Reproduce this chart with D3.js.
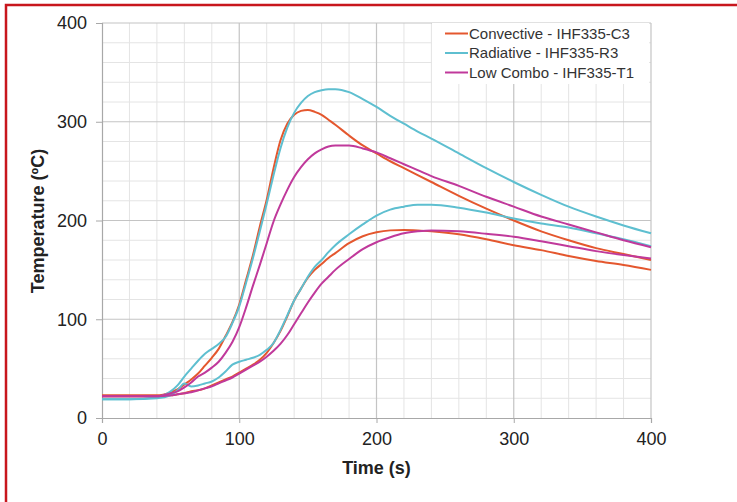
<!DOCTYPE html>
<html>
<head>
<meta charset="utf-8">
<script src="https://cdn.jsdelivr.net/npm/d3@7/dist/d3.min.js"></script>
<style>
  body { margin: 0; background: #fff; }
  svg { display: block; font-family: "Liberation Sans", Arial, sans-serif; }
  .tick-label { font-size: 18px; fill: #222; }
  .axis-title { font-size: 18px; font-weight: bold; fill: #222; }
  .legend-text { font-size: 15px; fill: #333; }
</style>
</head>
<body>
<svg id="chart" width="737" height="502"></svg>
<script>
// sample times (s), shared by every curve
const times = [0, 20, 40, 50, 55, 60, 65, 70, 75, 80, 85, 90, 95, 100, 105, 110, 115, 120, 125, 130,
  135, 140, 145, 150, 155, 160, 165, 170, 180, 190, 200, 210, 220, 230, 240, 260, 280, 300, 320, 340, 360, 380, 400];

// temperatures (ºC), upper and lower curve of each test
const convectiveUpper = [23, 23, 23, 26, 29, 34, 39, 45, 53, 61, 70, 83, 97, 115, 140, 165, 194, 221, 253, 281,
  298, 307, 311, 312, 310, 307, 302, 297, 286, 276, 268, 260, 253, 246, 239, 225, 212, 200, 189, 180, 172, 166, 160];
const convectiveLower = [22, 22, 22, 23, 24, 25, 27, 28, 30, 33, 36, 39, 42, 46, 50, 54, 59, 66, 76, 88,
  103, 119, 131, 142, 150, 156, 162, 167, 177, 184, 188, 190, 190.5, 190, 189, 186, 181, 175, 170, 164, 159, 155, 150];
const radiativeUpper = [19, 19, 21, 27, 33, 42, 50, 58, 65, 70, 75, 82, 96, 113, 137, 162, 189, 217, 246, 273,
  294, 309, 319, 326, 330, 332, 333, 333, 330, 323, 315, 306, 298, 290, 283, 268, 253, 239, 226, 214, 204, 195, 187];
const radiativeLower = [19, 19, 20, 23, 28, 35, 32, 33, 35, 37, 41, 47, 54, 57, 59, 61, 64, 69, 76, 89,
  104, 119, 131, 143, 153, 160, 168, 175, 186, 196, 205, 211, 214, 216, 216, 213, 208, 202, 197, 193, 187, 181, 174];
const comboUpper = [22, 22, 22, 25, 27, 31, 36, 42, 46, 51, 57, 66, 77, 92, 112, 134, 155, 177, 199, 216,
  231, 244, 254, 262, 268, 272, 275, 276, 276, 273, 269, 263, 257, 251, 245, 235, 224, 214, 204, 196, 188, 180, 173];
const comboLower = [22, 22, 22, 23, 24, 25, 26, 28, 30, 32, 35, 38, 41, 45, 49, 53, 57, 62, 68, 75,
  84, 95, 106, 117, 127, 136, 143, 150, 161, 171, 178, 183, 187, 189, 190, 189, 186.5, 183.5, 179, 174, 169, 165, 161.5];

const seriesNames = ['Convective - IHF335-C3', 'Radiative - IHF335-R3', 'Low Combo - IHF335-T1'];
const seriesColors = ['#E4572E', '#5EBFD0', '#C0399B'];
const xTicks = [0, 100, 200, 300, 400];
const yTicks = [0, 100, 200, 300, 400];

const curves = [
  { s: 0, values: convectiveUpper }, { s: 0, values: convectiveLower },
  { s: 1, values: radiativeUpper }, { s: 1, values: radiativeLower },
  { s: 2, values: comboUpper }, { s: 2, values: comboLower }
];

const svg = d3.select('#chart');
const margin = { top: 23, left: 102 };
const w = 549, h = 395;

// red frame (only top and left fall inside the picture)
svg.append('rect').attr('x', 6).attr('y', 5).attr('width', 800).attr('height', 600)
  .attr('fill', 'none').attr('stroke', '#C8161D').attr('stroke-width', 2.5);

const g = svg.append('g').attr('transform', `translate(${margin.left},${margin.top})`);
const x = d3.scaleLinear().domain([0, 400]).range([0, w]);
const y = d3.scaleLinear().domain([0, 400]).range([h, 0]);

// minor grid every 20, major every 100
const minor = d3.range(20, 401, 20).filter(v => v % 100 !== 0);
g.selectAll('.vminor').data(minor).join('line')
  .attr('x1', d => x(d)).attr('x2', d => x(d)).attr('y1', 0).attr('y2', h)
  .attr('stroke', '#E4E4E4').attr('stroke-width', 1);
g.selectAll('.hminor').data(minor).join('line')
  .attr('y1', d => y(d)).attr('y2', d => y(d)).attr('x1', 0).attr('x2', w)
  .attr('stroke', '#E4E4E4').attr('stroke-width', 1);
g.selectAll('.vmajor').data(xTicks.slice(1)).join('line')
  .attr('x1', d => x(d)).attr('x2', d => x(d)).attr('y1', 0).attr('y2', h)
  .attr('stroke', '#C4C4C4').attr('stroke-width', 1.2);
g.selectAll('.hmajor').data(yTicks.slice(1)).join('line')
  .attr('y1', d => y(d)).attr('y2', d => y(d)).attr('x1', 0).attr('x2', w)
  .attr('stroke', '#C4C4C4').attr('stroke-width', 1.2);

// axes
const yAxis = g.append('g').call(d3.axisLeft(y).tickValues(yTicks).tickSize(6).tickPadding(9));
const xAxis = g.append('g').attr('transform', `translate(0,${h})`)
  .call(d3.axisBottom(x).tickValues(xTicks).tickSize(5).tickPadding(9));
[xAxis, yAxis].forEach(a => {
  a.select('.domain').attr('stroke', '#A8A8A8').attr('stroke-width', 1.2);
  a.selectAll('.tick line').attr('stroke', '#A8A8A8');
  a.selectAll('.tick text').attr('class', 'tick-label').attr('font-family', null).attr('font-size', null);
});

// curves
const line = d3.line().x((d, i) => x(times[i])).y(d => y(d)).curve(d3.curveMonotoneX);
g.selectAll('.curve').data(curves).join('path')
  .attr('d', d => line(d.values))
  .attr('fill', 'none').attr('stroke', d => seriesColors[d.s]).attr('stroke-width', 2);

// axis titles
svg.append('text').attr('class', 'axis-title').attr('x', margin.left + x(200)).attr('y', 474)
  .attr('text-anchor', 'middle').text('Time (s)');
svg.append('text').attr('class', 'axis-title').attr('transform', 'translate(44,221) rotate(-90)')
  .attr('text-anchor', 'middle').text('Temperature (ºC)');

// legend
const lg = svg.append('g').attr('transform', 'translate(432,23)');
lg.append('rect').attr('width', 217).attr('height', 61).attr('fill', '#fff');
const rows = lg.selectAll('.row').data(seriesNames).join('g')
  .attr('transform', (d, i) => `translate(0,${10.5 + i * 19.5})`);
rows.append('line').attr('x1', 13).attr('x2', 36).attr('y1', 0).attr('y2', 0)
  .attr('stroke', (d, i) => seriesColors[i]).attr('stroke-width', 2);
rows.append('text').attr('class', 'legend-text').attr('x', 37).attr('y', 5).text(d => d);
</script>
</body>
</html>
